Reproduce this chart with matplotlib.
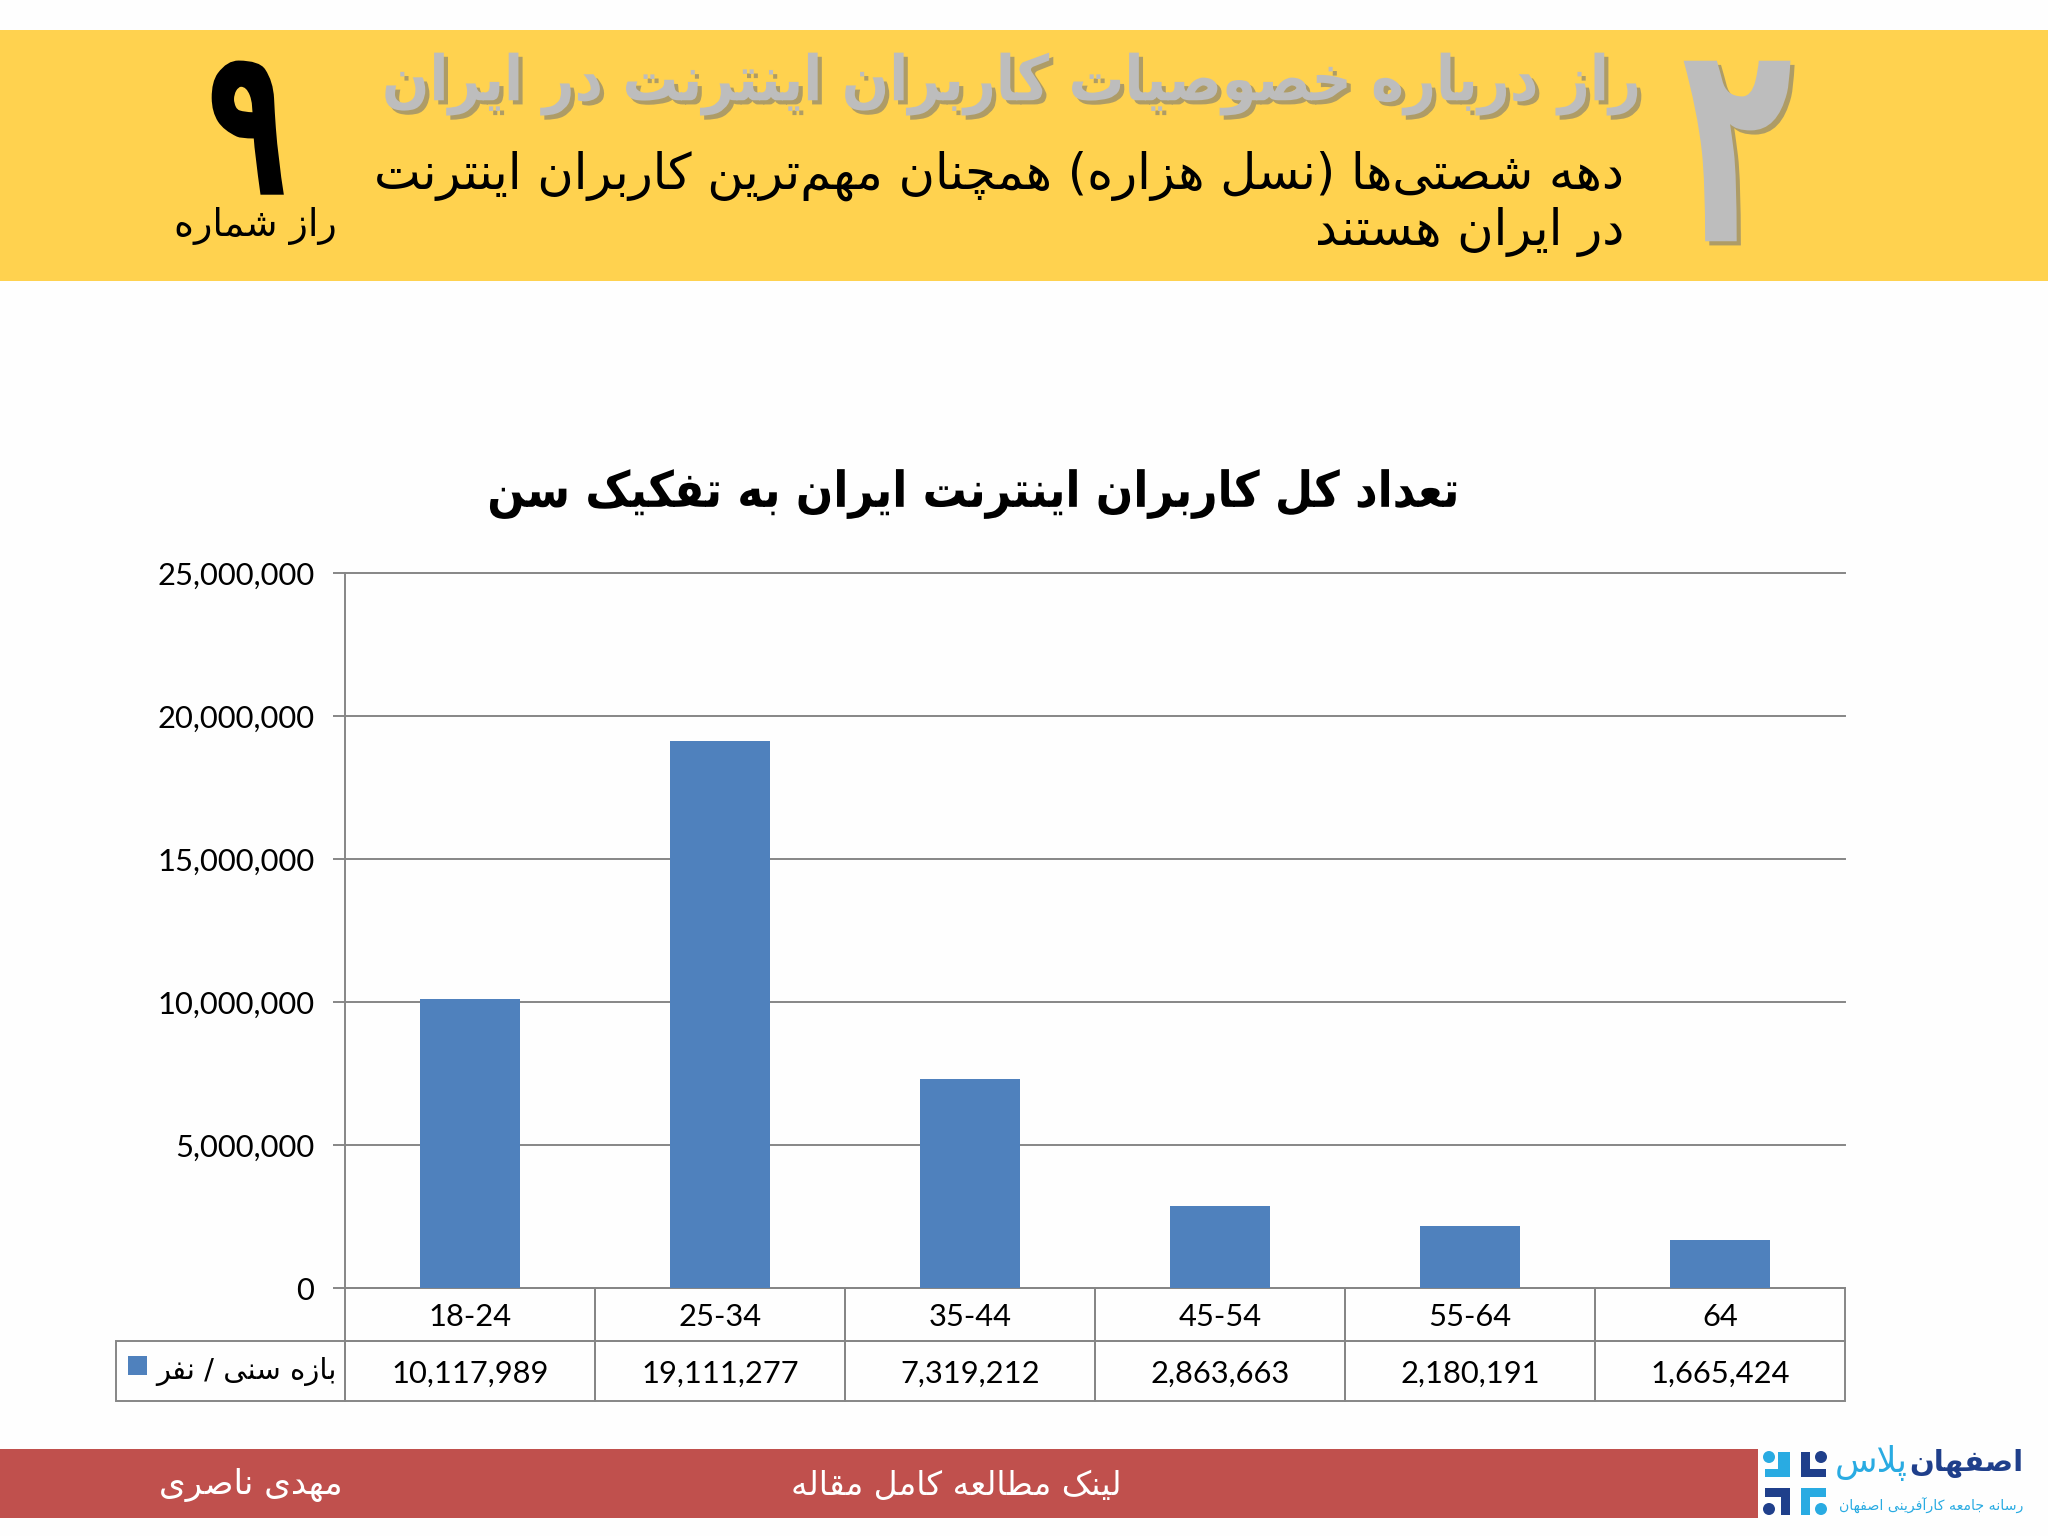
import matplotlib
matplotlib.use('Agg')
import matplotlib.pyplot as plt
from matplotlib.patches import Rectangle, Circle
from matplotlib.ticker import FuncFormatter
from matplotlib.transforms import Affine2D
import matplotlib.patheffects as pe

# age groups and users
age_groups = ['18-24', '25-34', '35-44', '45-54', '55-64', '64']
users = [10117989, 19111277, 7319212, 2863663, 2180191, 1665424]
y_ticks = [0, 5000000, 10000000, 15000000, 20000000, 25000000]

head_title = 'راز درباره خصوصیات کاربران اینترنت در ایران'
head_line1 = 'دهه شصتی\u200cها (نسل هزاره) همچنان مهم\u200cترین کاربران اینترنت'
head_line2 = 'در ایران هستند'
secret_label = 'راز شماره'
secret_no = '۹'
section_no = '۲'
chart_title = 'تعداد کل کاربران اینترنت ایران به تفکیک سن'
legend_label = 'بازه سنی / نفر'
author = 'مهدی ناصری'
link_text = 'لینک مطالعه کامل مقاله'
logo_a = 'اصفهان'
logo_b = 'پلاس'
logo_sub = 'رسانه جامعه کارآفرینی اصفهان'

plt.rcParams['font.family'] = ['Lato', 'DejaVu Sans']

# matplotlib does no arabic shaping, so map letters to presentation forms
# letter: isolated, final, initial, medial (two forms = joins only to the right)
FORMS = {
    'ا': (0xFE8D, 0xFE8E), 'آ': (0xFE81, 0xFE82), 'د': (0xFEA9, 0xFEAA), 'ذ': (0xFEAB, 0xFEAC),
    'ر': (0xFEAD, 0xFEAE), 'ز': (0xFEAF, 0xFEB0), 'ژ': (0xFB8A, 0xFB8B), 'و': (0xFEED, 0xFEEE),
    'ب': (0xFE8F, 0xFE90, 0xFE91, 0xFE92), 'پ': (0xFB56, 0xFB57, 0xFB58, 0xFB59),
    'ت': (0xFE95, 0xFE96, 0xFE97, 0xFE98), 'ج': (0xFE9D, 0xFE9E, 0xFE9F, 0xFEA0),
    'چ': (0xFB7A, 0xFB7B, 0xFB7C, 0xFB7D), 'خ': (0xFEA5, 0xFEA6, 0xFEA7, 0xFEA8),
    'س': (0xFEB1, 0xFEB2, 0xFEB3, 0xFEB4), 'ش': (0xFEB5, 0xFEB6, 0xFEB7, 0xFEB8),
    'ص': (0xFEB9, 0xFEBA, 0xFEBB, 0xFEBC), 'ط': (0xFEC1, 0xFEC2, 0xFEC3, 0xFEC4),
    'ع': (0xFEC9, 0xFECA, 0xFECB, 0xFECC), 'ف': (0xFED1, 0xFED2, 0xFED3, 0xFED4),
    'ق': (0xFED5, 0xFED6, 0xFED7, 0xFED8), 'ک': (0xFB8E, 0xFB8F, 0xFB90, 0xFB91),
    'ل': (0xFEDD, 0xFEDE, 0xFEDF, 0xFEE0), 'م': (0xFEE1, 0xFEE2, 0xFEE3, 0xFEE4),
    'ن': (0xFEE5, 0xFEE6, 0xFEE7, 0xFEE8), 'ه': (0xFEE9, 0xFEEA, 0xFEEB, 0xFEEC),
    'ی': (0xFBFC, 0xFBFD, 0xFBFE, 0xFBFF),
}
MIRROR = {'(': ')', ')': '('}


def fa(text):
    # lam-alef ligature first
    text = text.replace('لا', '\uE000')
    out = []
    for i, ch in enumerate(text):
        prev = text[i - 1] if i > 0 else ''
        nxt = text[i + 1] if i + 1 < len(text) else ''
        joins_prev = prev in FORMS and len(FORMS[prev]) == 4
        if ch == '\uE000':
            out.append(chr(0xFEFC if joins_prev else 0xFEFB))
        elif ch == '\u200c':
            continue
        elif ch in FORMS:
            f = FORMS[ch]
            joins_next = len(f) == 4 and (nxt in FORMS or nxt == '\uE000')
            if joins_prev and joins_next:
                out.append(chr(f[3]))
            elif joins_prev:
                out.append(chr(f[1]))
            elif joins_next:
                out.append(chr(f[2]))
            else:
                out.append(chr(f[0]))
        else:
            out.append(MIRROR.get(ch, ch))
    return ''.join(reversed(out))


W, H = 2048, 1536


class Stretch(pe.AbstractPathEffect):
    # squeeze a text around a page point, the reference fonts are narrower than DejaVu
    def __init__(self, sx, sy, cx, cy, shadow=False):
        super().__init__()
        self.t = Affine2D().translate(-cx, -(H - cy)).scale(sx, sy).translate(cx, H - cy)
        self.effects = [pe.Normal()]
        if shadow:
            self.effects.insert(0, pe.SimplePatchShadow(offset=(3, -3), shadow_rgbFace='#8C8670', alpha=0.7))

    def draw_path(self, renderer, gc, tpath, affine, rgbFace=None):
        for e in self.effects:
            e.draw_path(renderer, gc, tpath, affine + self.t, rgbFace)


fig = plt.figure(figsize=(W / 100, H / 100), dpi=100, facecolor='#FEFEFE')

# page layer in pixel coordinates
bg = fig.add_axes([0, 0, 1, 1])
bg.set_xlim(0, W)
bg.set_ylim(H, 0)
bg.axis('off')
bg.add_patch(Rectangle((0, 30), W, 251, color='#FFD24F', lw=0))
bg.add_patch(Rectangle((0, 1449), 1758, 69, color='#C0504D', lw=0))

FA = ['DejaVu Sans']
bg.text(1640, 84, fa(head_title), fontsize=43, fontweight='bold', family=FA, color='#BDBDBD',
        ha='right', va='center', path_effects=[Stretch(0.932, 1.05, 1640, 84, shadow=True)])
bg.text(1624, 176, fa(head_line1), fontsize=35.7, family=FA, color='black', ha='right', va='center')
bg.text(1624, 232, fa(head_line2), fontsize=35.7, family=FA, color='black', ha='right', va='center')
bg.text(255, 226, fa(secret_label), fontsize=27.3, family=FA, color='black', ha='center', va='center')
bg.text(247, 133, secret_no, fontsize=100, fontweight='bold', family=FA, color='black', ha='center', va='center',
        path_effects=[Stretch(0.93, 1.51, 247, 126)])
bg.text(1737, 161, section_no, fontsize=175, fontweight='bold', family=FA, color='#BDBDBD',
        ha='center', va='center', path_effects=[Stretch(0.75, 1.17, 1737, 150, shadow=True)])
bg.text(973, 494, fa(chart_title), fontsize=34, fontweight='bold', family=FA, color='black', ha='center', va='center',
        path_effects=[Stretch(0.931, 1.05, 973, 491)])
bg.text(251, 1485, fa(author), fontsize=24.6, family=FA, color='white', ha='center', va='center')
bg.text(956, 1485, fa(link_text), fontsize=23.7, family=FA, color='white', ha='center', va='center')

# logo
light, dark = '#29ABE2', '#1F3F8B'
logo_parts = [
    (light, (1765, 1469, 25, 8), (1778, 1452, 12, 25), (1769, 1457)),
    (dark, (1801, 1469, 25, 8), (1801, 1452, 9, 25), (1821, 1457)),
    (dark, (1765, 1488, 25, 9), (1781, 1488, 9, 27), (1769, 1509)),
    (light, (1801, 1488, 25, 9), (1801, 1488, 9, 27), (1821, 1509)),
]
for col, r1, r2, c in logo_parts:
    bg.add_patch(Rectangle(r1[:2], r1[2], r1[3], color=col, lw=0))
    bg.add_patch(Rectangle(r2[:2], r2[2], r2[3], color=col, lw=0))
    bg.add_patch(Circle(c, 6, color=col, lw=0))
bg.text(2023, 1463, fa(logo_a), fontsize=21, fontweight='bold', family=FA, color=dark, ha='right', va='center')
bg.text(1908, 1463, fa(logo_b), fontsize=25, family=FA, color=light, ha='right', va='center')
bg.text(2023, 1506, fa(logo_sub), fontsize=10.2, family=FA, color=light, ha='right', va='center')

# chart
grey = '#868686'
ax = fig.add_axes([345 / W, 1 - 1288 / H, 1500 / W, 715 / H])
ax.patch.set_alpha(0)
x = list(range(len(age_groups)))
ax.bar(x, users, width=0.4, color='#4F81BD', zorder=3)
ax.set_xlim(-0.5, 5.5)
ax.set_ylim(0, 25000000)
ax.set_yticks(y_ticks)
ax.yaxis.set_major_formatter(FuncFormatter(lambda v, p: f'{int(v):,}'))
ax.tick_params(axis='y', labelsize=22.2, length=9, width=1.4, color=grey, pad=13)
ax.set_xticks([])
ax.grid(axis='y', color=grey, lw=1.4, zorder=1)
ax.set_axisbelow(True)
for l in ax.get_ygridlines():
    l.set_clip_on(False)
for s in ['top', 'right']:
    ax.spines[s].set_visible(False)
for s in ['left', 'bottom']:
    ax.spines[s].set_color(grey)
    ax.spines[s].set_linewidth(1.4)

# data table under the bars
rows = [age_groups, [f'{v:,}' for v in users]]
tb = ax.table(cellText=rows, cellLoc='center', bbox=[0, -113 / 715, 1, 113 / 715])
tb.auto_set_font_size(False)
for (r, c), cell in tb.get_celld().items():
    cell.set_edgecolor(grey)
    cell.set_linewidth(1.4)
    cell.set_height(53 if r == 0 else 60)
    cell.set_facecolor('none')
    cell.get_text().set_fontsize(22.2)
    cell.get_text().set_va('center_baseline')

# row header of the table with the legend key
bg.add_patch(Rectangle((116, 1341), 229, 60, fc='none', ec=grey, lw=1.4))
bg.add_patch(Rectangle((128, 1356), 19, 19, color='#4F81BD', lw=0))
bg.text(337, 1372, fa(legend_label), fontsize=21, family=FA, color='black', ha='right', va='center')

fig.savefig('out.png', dpi=100, facecolor=fig.get_facecolor())
